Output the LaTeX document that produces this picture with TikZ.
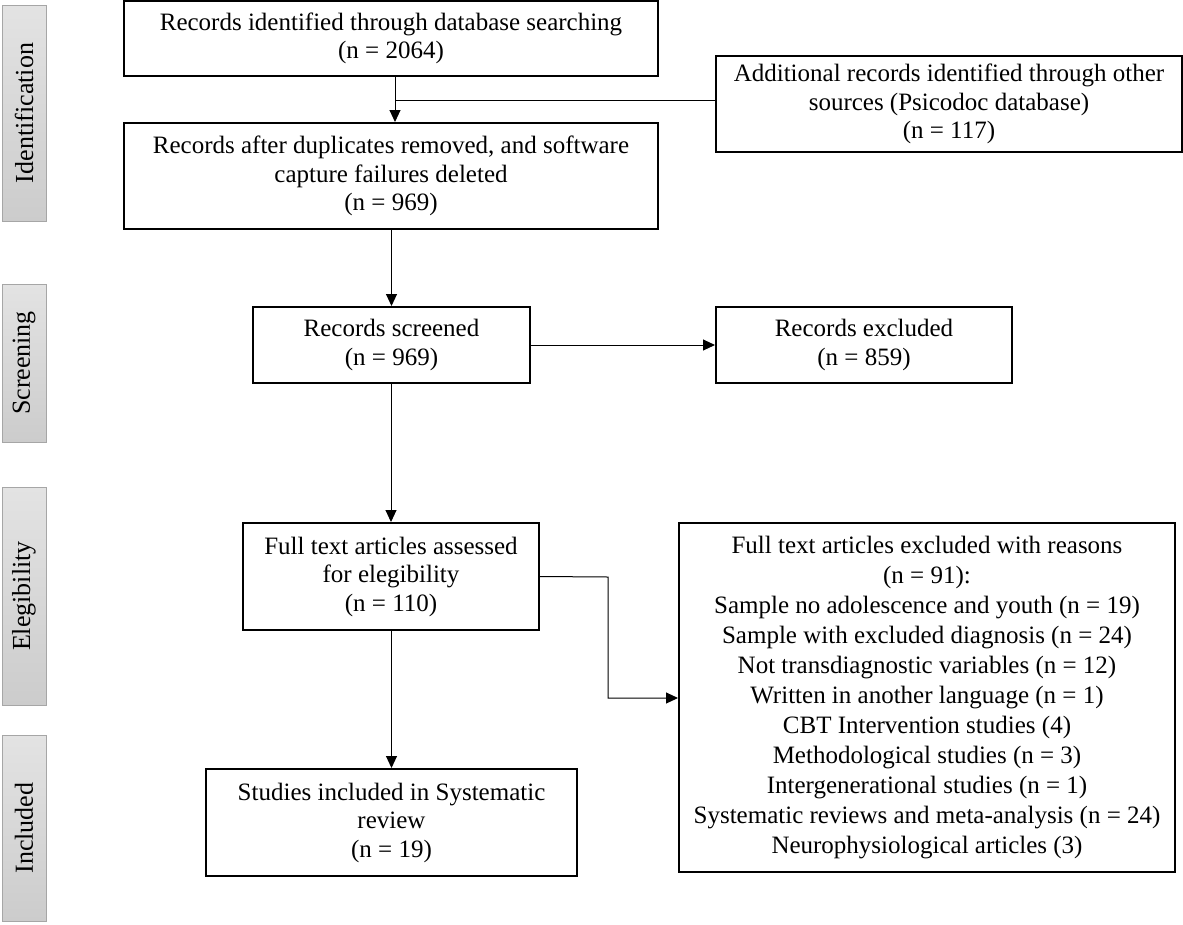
\documentclass[tikz,border=0pt]{standalone}
\usepackage{fontspec}
\setmainfont{Liberation Serif}
\usetikzlibrary{arrows.meta}
\begin{document}
\begin{tikzpicture}[x=1pt,y=-1pt,
  box/.style={draw=black,line width=2pt,align=center,inner sep=2pt,font=\fontsize{25}{28.5}\selectfont},
  phase/.style={draw=gray!70,line width=0.8pt,left color=gray!22,right color=gray!40,shading angle=0,rotate=90,font=\fontsize{26}{28}\selectfont},
  conn/.style={line width=1pt},
  arr/.style={conn,-{Triangle[width=11pt,length=12pt]}}]
\useasboundingbox (0,0) rectangle (1183,924);
% phase labels
\node[phase,minimum width=216pt,minimum height=44pt] (p1) at (24,113) {Identification};
\node[phase,minimum width=158pt,minimum height=44pt] (p2) at (24,363) {Screening};
\node[phase,minimum width=218pt,minimum height=44pt] (p3) at (24,596) {Elegibility};
\node[phase,minimum width=186pt,minimum height=44pt] (p4) at (24,828) {Included};
% boxes
\node[box,minimum width=534pt,minimum height=75pt] (b1) at (391,38.5) {Records identified through database searching\\(n = 2064)};
\node[box,minimum width=466pt,minimum height=96pt] (b2) at (949,104) {Additional records identified through other\\sources (Psicodoc database)\\(n = 117)};
\node[box,minimum width=534pt,minimum height=106pt] (b3) at (391,176) {Records after duplicates removed, and software\\capture failures deleted\\(n = 969)};
\node[box,minimum width=277pt,minimum height=76pt] (b4) at (391.5,345) {Records screened\\(n = 969)};
\node[box,minimum width=296pt,minimum height=76pt] (b5) at (864,345) {Records excluded\\(n = 859)};
\node[box,minimum width=296pt,minimum height=107pt] (b6) at (391,576.5) {Full text articles assessed\\for elegibility\\(n = 110)};
\node[box,minimum width=496pt,minimum height=349pt,font=\fontsize{25}{30}\selectfont] (b7) at (927,697.5) {Full text articles excluded with reasons\\(n = 91):\\Sample no adolescence and youth (n = 19)\\Sample with excluded diagnosis (n = 24)\\Not transdiagnostic variables (n = 12)\\Written in another language (n = 1)\\CBT Intervention studies (4)\\Methodological studies (n = 3)\\Intergenerational studies (n = 1)\\Systematic reviews and meta-analysis (n = 24)\\Neurophysiological articles (3)};
\node[box,minimum width=371pt,minimum height=107pt] (b8) at (391.5,822.5) {Studies included in Systematic\\review\\(n = 19)};
% connectors
\coordinate (j1) at (395,100);
\draw[arr] (b1.south -| j1) -- (b3.north -| j1);
\draw[conn] (b2.west |- j1) -- (j1);
\draw[arr] (b3.south -| b4.north) -- (b4.north);
\draw[arr] (b4.east) -- (b5.west);
\draw[arr] (b4.south -| b6.north) -- (b6.north);
\coordinate (k1) at (608,577);
\coordinate (k2) at (608,698);
\draw[arr] (b6.east) -- (k1) -- (k2) -- (b7.west |- k2);
\draw[arr] (b6.south -| b8.north) -- (b8.north);
\end{tikzpicture}
\end{document}
